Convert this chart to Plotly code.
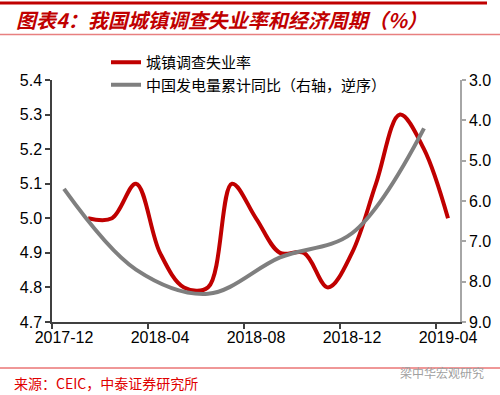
import plotly.graph_objects as go

months = ["2017-12", "2018-01", "2018-02", "2018-03", "2018-04", "2018-05", "2018-06",
          "2018-07", "2018-08", "2018-09", "2018-10", "2018-11", "2018-12",
          "2019-01", "2019-02", "2019-03", "2019-04"]
unemployment = [None, 5.0, 5.0, 5.1, 4.9, 4.8, 4.8, 5.1, 5.0, 4.9, 4.9, 4.8, 4.9,
                5.1, 5.3, 5.2, 5.0]
power_gen = [5.7, None, None, 7.7, None, None, 8.3, None, None, 7.4, None, None, 6.8,
             None, None, 4.2, None]

name_unemp = "城镇调查失业率"
name_power = "中国发电量累计同比（右轴，逆序）"
title_text = "图表4：我国城镇调查失业率和经济周期（%）"
source_text = "来源：CEIC，中泰证券研究所"
watermark_text = "梁中华宏观研究"

W, H = 500, 395
L, R, T, B = 52, 40, 80, 73
PW, PH = W - L - R, H - T - B


def px_x(px):
    return (px - L) / PW


def px_y(py):
    return (H - B - py) / PH


CJK = "Noto Sans CJK SC, sans-serif"
NUM = "Liberation Sans, Arial, sans-serif"

fig = go.Figure()
fig.add_trace(go.Scatter(
    x=months, y=unemployment, name=name_unemp, mode="lines",
    line=dict(color="#C00000", width=4, shape="spline", smoothing=1.0),
    connectgaps=False, yaxis="y"))
fig.add_trace(go.Scatter(
    x=months, y=power_gen, name=name_power, mode="lines",
    line=dict(color="#7F7F7F", width=4, shape="spline", smoothing=1.0),
    connectgaps=True, yaxis="y2"))

fig.update_layout(
    width=W, height=H,
    margin=dict(l=L, r=R, t=T, b=B, autoexpand=False),
    paper_bgcolor="white", plot_bgcolor="white",
    showlegend=True,
    legend=dict(xref="container", yref="container",
                x=106 / W, y=1 - 46 / H, xanchor="left", yanchor="top",
                bgcolor="rgba(0,0,0,0)", font=dict(family=CJK, size=15, color="#000"),
                tracegroupgap=0),
    xaxis=dict(type="category", tickson="boundaries", dtick=4, tick0=0,
               range=[-0.5, 16.5], tickangle=0, automargin=False,
               showline=True, linecolor="#404040", linewidth=1.5,
               ticks="outside", ticklen=5, tickcolor="#404040", tickwidth=1.5,
               showgrid=False, zeroline=False,
               tickfont=dict(family=NUM, size=16, color="#000")),
    yaxis=dict(range=[4.7, 5.4], dtick=0.1, tick0=4.7, tickformat=".1f",
               automargin=False,
               showline=True, linecolor="#404040", linewidth=1.5,
               ticks="outside", ticklen=5, tickcolor="#404040", tickwidth=1.5,
               showgrid=False, zeroline=False,
               tickfont=dict(family=NUM, size=16, color="#000")),
    yaxis2=dict(range=[9.0, 3.0], dtick=1, tick0=3, tickformat=".1f",
                overlaying="y", side="right", automargin=False,
                showline=True, linecolor="#A6A6A6", linewidth=1.5,
                ticks="outside", ticklen=4, tickcolor="#A6A6A6", tickwidth=1.5,
                showgrid=False, zeroline=False,
                tickfont=dict(family=NUM, size=16, color="#000")),
)

shapes = [
    dict(type="line", xref="paper", yref="paper", x0=px_x(0), x1=px_x(487),
         y0=px_y(3), y1=px_y(3), line=dict(color="#C00000", width=3)),
    dict(type="line", xref="paper", yref="paper", x0=px_x(0), x1=px_x(500),
         y0=px_y(34.5), y1=px_y(34.5), line=dict(color="#E88080", width=1.5)),
    dict(type="line", xref="paper", yref="paper", x0=px_x(0), x1=px_x(500),
         y0=px_y(368), y1=px_y(368), line=dict(color="#E03030", width=1)),
]
fig.update_layout(shapes=shapes)

fig.add_annotation(xref="paper", yref="paper", x=px_x(14), y=px_y(19),
                   xanchor="left", yanchor="middle", showarrow=False,
                   text="<b><i>" + title_text + "</i></b>",
                   font=dict(family=CJK, size=20, color="#C00000"))
fig.add_annotation(xref="paper", yref="paper", x=px_x(12), y=px_y(383),
                   xanchor="left", yanchor="middle", showarrow=False,
                   text=source_text,
                   font=dict(family=CJK, size=14, color="#E00000"))
fig.add_annotation(xref="paper", yref="paper", x=px_x(486), y=px_y(372),
                   xanchor="right", yanchor="middle", showarrow=False,
                   text=watermark_text,
                   font=dict(family=CJK, size=12, color="#A0A0A0"))

fig.write_html("out.html", config={"displayModeBar": False},
               post_script="document.body.style.margin='0';document.body.style.padding='0';")
